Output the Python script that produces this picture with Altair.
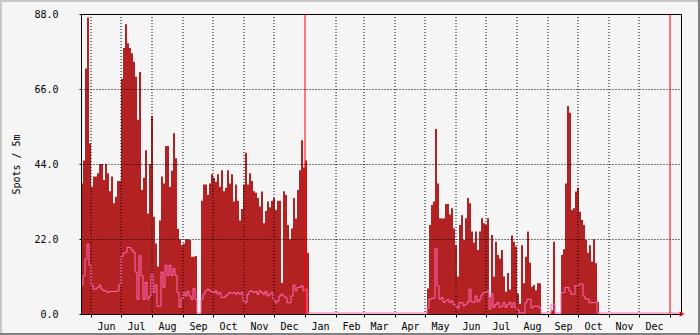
import altair as alt
import pandas as pd

# ---- data (2-day steps, day 0 = left edge of the plot) ----
STEP_DAYS = 2
N_STEPS = 300
DOMAIN_DAYS = 600

seg_a_start = 0
seg_a_max = [38.3, 45, 72, 87, 50, 37.3, 40.3, 40.3, 41.3, 44, 44, 39.3, 44, 41.3, 36, 40.3, 32.5, 34.4, 39, 39,
             69, 78, 85, 79.4, 78, 76.5, 74, 69.6, 57, 71, 36.4, 40, 48, 29.5, 44, 58, 28.5, 20.7, 13.9, 27.4,
             40.3, 38.3, 49.3, 49.3, 37.3, 42, 53, 45.7, 25, 21.9, 20.2, 20.7, 21.9, 21.9, 21.7, 16.8, 16.8, 17,
             0, 0, 33.2, 38, 38, 35, 38.3, 41, 40, 38.8, 41, 37.3, 42.2, 36, 37, 42.2, 38.3, 41, 33, 38, 33.2,
             27.4, 30.8, 38, 47.3, 38, 41.3, 39, 36, 35.6, 34, 31.5, 35.9, 26.6, 30.2, 33, 31.3, 33.2, 34, 30.5,
             33.2, 33.2, 9.2, 36, 34.9, 26.1, 21.9, 25.1, 34, 28, 36.4, 42.2, 51, 43, 45, 18]
seg_a_avg = [8.2, 11, 15.8, 20.2, 14, 8.2, 7, 7, 7.5, 8.2, 7, 6.5, 6.5, 6, 6.3, 6.3, 6.3, 6.3, 6.5, 8.4,
             16.6, 17.6, 17.8, 19.2, 19.2, 18.5, 17.8, 12, 4, 16.8, 11, 4, 9, 4.1, 5, 11.4, 6, 8.2, 2, 2,
             12, 7.5, 14, 11, 14, 11, 13, 11, 6, 1.7, 4.1, 6, 5, 6.3, 5, 4, 7.2, 4,
             0, 0, 4, 5.5, 6.5, 7, 6.5, 6.3, 6, 6.5, 5.5, 6, 4.6, 4.5, 5, 5.5, 6, 5.8, 6, 5.5, 6,
             5.5, 6, 3.5, 3, 5.5, 6.3, 6.5, 6, 6.3, 5.5, 6.5, 6, 5.5, 6.3, 5, 5.5, 6, 4, 3,
             3.5, 5, 5.5, 5, 4.5, 3, 3, 5, 8.2, 6.5, 7.5, 7.5, 8, 6.5, 7, 0]

seg_b_start = 173
seg_b_max = [7.5, 26.1, 32, 33, 54.3, 38.3, 28.1, 28, 28.1, 32.3, 32.3, 29.2, 31, 25.1, 20.2, 11, 26.1, 29,
             21.7, 28.1, 34, 32.5, 24.2, 21, 24.2, 18.8, 24.2, 28.1, 26.6, 26.1, 28.1, 5, 23.2, 11, 21.2,
             17.3, 16.3, 18.8, 11, 6.5, 12, 7.2, 23, 21.2, 19.8, 6, 3, 20.2, 9, 16.8, 24.2, 15, 8, 8.5, 7,
             9, 9, 0, 0, 0, 0, 0, 1, 21.2, 0, 0, 0, 17.3, 19, 38.3, 61, 59, 30.5, 31, 35.9, 37, 30, 27.6,
             26.1, 21.7, 18, 20.2, 15.4, 21.9, 14.9, 3.6]
seg_b_avg = [1.5, 4, 4.3, 4.3, 19, 8, 4.1, 4.5, 3.1, 3.5, 3.9, 3.1, 3.5, 2.5, 2, 1.4, 3.1, 3,
             2.1, 2.5, 3.1, 7, 3.3, 3.1, 5, 3.3, 4, 5.3, 6, 6, 6.5, 1.2, 5.6, 1.7, 2.5,
             3.1, 1.7, 2, 3.1, 1.7, 2.5, 3.1, 1.7, 3, 1.5, 1, 0, 0, 0, 3, 4, 4, 1.5, 2, 2,
             2, 1.5, 0, 0, 0, 0, 0, 2.6, 2.6, 0, 0, 0, 6, 6, 7.5, 7.5, 6.5, 5.5, 5.5, 8, 8, 8.5, 8.5,
             5, 4.1, 4.1, 3, 3.1, 3, 3.1, 0]

month_days = [10, 40, 71, 102, 132, 163, 193, 224, 255, 283, 314, 344, 375, 405, 436, 467, 497, 528, 558, 589]
month_labels = ["Jun", "Jul", "Aug", "Sep", "Oct", "Nov", "Dec", "Jan", "Feb", "Mar", "Apr", "May",
                "Jun", "Jul", "Aug", "Sep", "Oct", "Nov", "Dec", ""]
year_start_days = [224, 589]
y_ticks = [0, 22, 44, 66, 88]

max_full = [0.0] * N_STEPS
avg_full = [0.0] * N_STEPS
for i, v in enumerate(seg_a_max):
    max_full[seg_a_start + i] = v
for i, v in enumerate(seg_a_avg):
    avg_full[seg_a_start + i] = v
for i, v in enumerate(seg_b_max):
    max_full[seg_b_start + i] = v
for i, v in enumerate(seg_b_avg):
    avg_full[seg_b_start + i] = v

days = [k * STEP_DAYS for k in range(N_STEPS)] + [DOMAIN_DAYS]
max_full.append(max_full[-1])
avg_full.append(avg_full[-1])
df = pd.DataFrame({"day": days, "max": max_full, "avg": avg_full})

FONT = "DejaVu Sans Mono"
W, H = 600, 300
TITLE = "Spots / 5m"

label_expr = "[" + ",".join("'%s'" % m for m in month_labels) + "][indexof([" + \
    ",".join(str(d) for d in month_days) + "], datum.value)]"

xscale = alt.Scale(domain=[0, DOMAIN_DAYS], nice=False, zero=False)
yscale = alt.Scale(domain=[0, 88], nice=False)

x_axis = alt.Axis(values=month_days, labelExpr=label_expr, grid=False, tickSize=3,
                  labelOffset=15, labelPadding=4, labelOverlap=False, labelFlush=False,
                  labelBound=False, zindex=1)
y_axis = alt.Axis(values=y_ticks, format=".1f", grid=True, tickSize=2, labelPadding=21,
                  titlePadding=12, zindex=1, labelOverlap=False)


def X(field="day"):
    return alt.X(field + ":Q", scale=xscale, title=None, axis=x_axis)


def Y(field):
    return alt.Y(field + ":Q", scale=yscale, title=TITLE, axis=y_axis)


base = alt.Chart(df)
area = base.mark_area(interpolate="step-after", color="#b22222", opacity=1).encode(x=X(), y=Y("max"))
line = base.mark_line(interpolate="step-after", color="#ff69b4", strokeWidth=1, yOffset=-1).encode(
    x=X(), y=Y("avg"))

grid_days = [d for d in month_days if d not in year_start_days]
grid = alt.Chart(pd.DataFrame({"day": grid_days})).mark_rule(
    color="black", strokeDash=[1, 2], strokeWidth=1).encode(
    x=X(), y=alt.value(0), y2=alt.value(H))

years = alt.Chart(pd.DataFrame({"day": year_start_days})).mark_rule(
    color="#ff0000", strokeWidth=1).encode(x=X(), y=alt.value(0), y2=alt.value(H))

arrow = alt.Chart(pd.DataFrame({"day": [DOMAIN_DAYS + 1], "v": [0]})).mark_point(
    shape="triangle-right", filled=True, size=30, color="#ff0000", opacity=1).encode(
    x=X(), y=Y("v"))

dummy = alt.Data(values=[{"a": 1}])
b_top = alt.Chart(dummy).mark_rule(color="#c8c8c8", strokeWidth=2).encode(
    x=alt.value(-81), x2=alt.value(619), y=alt.value(-13))
b_left = alt.Chart(dummy).mark_rule(color="#c8c8c8", strokeWidth=2).encode(
    x=alt.value(-80), y=alt.value(-14), y2=alt.value(321))
b_right = alt.Chart(dummy).mark_rule(color="#808080", strokeWidth=2).encode(
    x=alt.value(618), y=alt.value(-14), y2=alt.value(321))
b_bottom = alt.Chart(dummy).mark_rule(color="#808080", strokeWidth=2).encode(
    x=alt.value(-81), x2=alt.value(619), y=alt.value(320))

chart = alt.layer(area, line, grid, years, arrow, b_top, b_left, b_right, b_bottom).properties(
    width=W, height=H,
    padding={"left": 81, "top": 14, "right": 19, "bottom": 21},
    autosize=alt.AutoSizeParams(type="none"),
    background="#f5f5f5",
).configure_view(
    stroke="black", strokeWidth=1, fill="#f5f5f5"
).configure_axis(
    labelFont=FONT, titleFont=FONT, labelFontSize=10, titleFontSize=10,
    labelColor="black", titleColor="black", titleFontWeight="normal",
    domainColor="black", tickColor="black", gridColor="black", gridDash=[1, 2],
    gridOpacity=1, gridWidth=1, domainWidth=1, tickWidth=1,
)

chart.save("out.html", embed_options={"renderer": "svg", "actions": False})
